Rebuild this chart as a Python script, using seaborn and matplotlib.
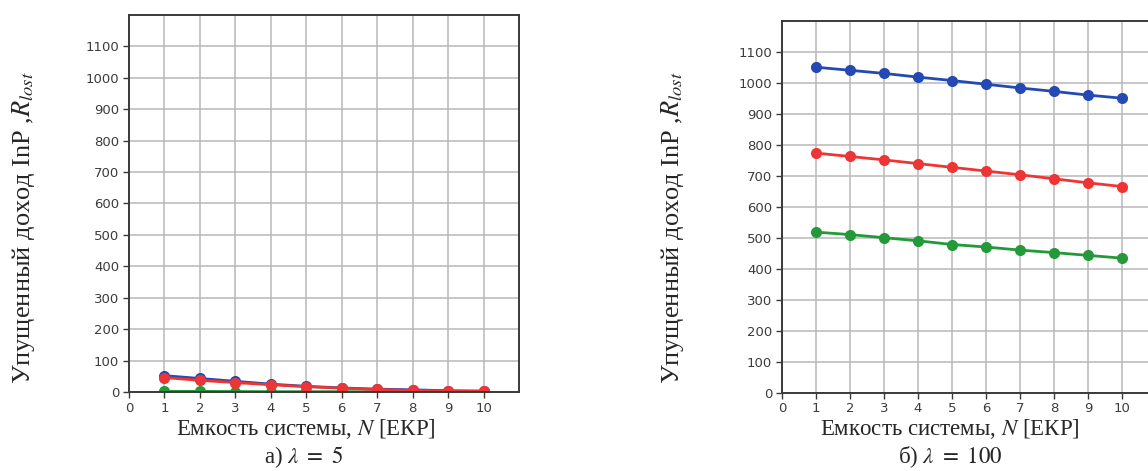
import pandas as pd
import matplotlib.pyplot as plt
import seaborn as sns

sns.set_theme(style='whitegrid')
plt.rcParams['font.family'] = ['DejaVu Sans']
plt.rcParams['mathtext.fontset'] = 'stix'

# capacity N (number of units)
n_vals = [1, 2, 3, 4, 5, 6, 7, 8, 9, 10]

# a) lambda = 5
blue_l5 = [52, 43, 34, 25, 18, 13, 9, 7, 4, 3]
red_l5 = [46, 37, 30, 23, 17, 12, 8, 5, 3, 2]
green_l5 = [2, 2, 1.5, 1, 1, 1, 0.5, 0.5, 0.3, 0.3]

# b) lambda = 100
blue_l100 = [1050, 1040, 1030, 1018, 1007, 995, 983, 972, 960, 950]
red_l100 = [773, 762, 751, 739, 727, 715, 703, 690, 677, 665]
green_l100 = [518, 510, 500, 490, 478, 470, 460, 452, 443, 434]

xticks = list(range(0, 11))
yticks = list(range(0, 1200, 100))

colors = {'blue': '#2449b3', 'green': '#24993a', 'red': '#ee3535'}

serif = ['Liberation Serif', 'DejaVu Serif']
ylab = 'Упущенный доход InP ,$R_{lost}$'
xlab = 'Емкость системы, $N$ [ЕКР]'

fig = plt.figure(figsize=(11.48, 4.71), dpi=100)
ax1 = fig.add_axes([129 / 1148, 79 / 471, 390 / 1148, 377 / 471])
ax2 = fig.add_axes([782 / 1148, 78.3 / 471, 374 / 1148, 372 / 471])


def draw(ax, blue, green, red):
    df = pd.DataFrame({'N': n_vals * 3,
                       'R': blue + green + red,
                       's': ['blue'] * 10 + ['green'] * 10 + ['red'] * 10})
    sns.lineplot(data=df, x='N', y='R', hue='s', palette=colors, marker='o',
                 markersize=8, markeredgewidth=0, linewidth=2, legend=False, ax=ax)
    ax.set_xlim(0, 11)
    ax.set_ylim(0, 1200)
    ax.set_xticks(xticks)
    ax.set_yticks(yticks)
    ax.grid(True, color='#b8b8b8', linewidth=1.1)
    for sp in ax.spines.values():
        sp.set_color('#3a3a3a')
        sp.set_linewidth(1.4)
    ax.tick_params(axis='both', which='major', bottom=True, left=True, length=4,
                   width=1, color='#3a3a3a', labelsize=9.5, labelcolor='#3c3c3c', pad=3)
    ax.set_xlabel('')
    ax.set_ylabel('')


draw(ax1, blue_l5, green_l5, red_l5)
draw(ax2, blue_l100, green_l100, red_l100)

# axis titles and captions
fig.text(306 / 1148, 1 - 429 / 471, xlab, ha='center', va='center',
         fontsize=16.5, family=serif)
fig.text(304 / 1148, 1 - 457 / 471, 'а) $\\lambda\\ =\\ 5$', ha='center', va='center',
         fontsize=16.5, family=serif)
fig.text(24 / 1148, 1 - 228 / 471, ylab, ha='center', va='center', rotation=90,
         fontsize=19, family=serif)

fig.text(950 / 1148, 1 - 429 / 471, xlab, ha='center', va='center',
         fontsize=16.5, family=serif)
fig.text(950 / 1148, 1 - 457 / 471, 'б) $\\lambda\\ =\\ 100$', ha='center', va='center',
         fontsize=16.5, family=serif)
fig.text(672 / 1148, 1 - 228 / 471, ylab, ha='center', va='center', rotation=90,
         fontsize=19, family=serif)

fig.savefig('out.png', dpi=100)
